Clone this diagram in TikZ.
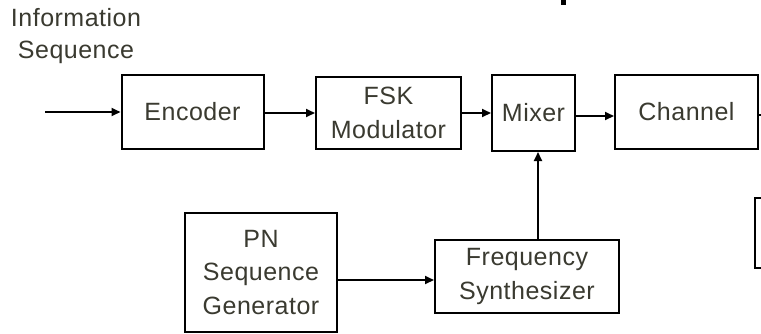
\documentclass[tikz,border=0pt]{standalone}
\usepackage{fontspec}
\setmainfont{Liberation Sans}[LetterSpace=2]
\usetikzlibrary{arrows.meta}
\definecolor{txt}{RGB}{58,58,48}
\tikzset{
  blk/.style={draw=black, line width=2pt, text=txt, align=center, inner sep=0pt,
              font=\fontsize{25}{33.5}\selectfont},
  conn/.style={line width=2pt, -{Triangle[length=9pt,width=8pt]}},
  lbl/.style={text=txt, align=center, inner sep=0pt, font=\fontsize{25}{32}\selectfont}
}
\begin{document}
\begin{tikzpicture}[x=1pt,y=-1pt]
\clip (0,0) rectangle (761,333);
\fill[white] (0,0) rectangle (761,333);
% labels
\node[lbl] (info) at (76,36) {Information\\Sequence};
% blocks
\node[blk, minimum width=142pt, minimum height=74pt] (enc) at (192.5,112) {Encoder};
\node[blk, minimum width=145pt, minimum height=72pt] (fsk) at (388.5,113) {FSK\\Modulator};
\node[blk, minimum width=83pt, minimum height=76pt] (mix) at (533.5,113) {Mixer};
\node[blk, minimum width=143pt, minimum height=74pt] (chan) at (686.5,112) {Channel};
\node[blk, minimum width=152pt, minimum height=119pt] (pn) at (261,272.5) {PN\\Sequence\\Generator};
\node[blk, minimum width=184pt, minimum height=73pt] (freq) at (527,276.5) {Frequency\\Synthesizer};
\node[blk, minimum width=80pt, minimum height=70pt] (cut) at (795,233) {};
% free ends
\coordinate (in) at (45,112);
\coordinate (out) at (775,115);
% connectors
\draw[conn] (in) -- (enc.west |- in);
\draw[conn] (enc.east |- 0,113) -- (fsk.west |- 0,113);
\draw[conn] (fsk.east |- 0,113) -- (mix.west |- 0,113);
\draw[conn] (mix.east |- 0,116) -- (chan.west |- 0,116);
\draw[line width=2pt] (chan.east |- out) -- (out);
\draw[conn] (pn.east |- 0,280) -- (freq.west |- 0,280);
\draw[conn] (freq.north -| 538,0) -- (mix.south -| 538,0);
% stray mark at top
\fill[black] (561,0) rectangle (566,5);
\end{tikzpicture}
\end{document}
